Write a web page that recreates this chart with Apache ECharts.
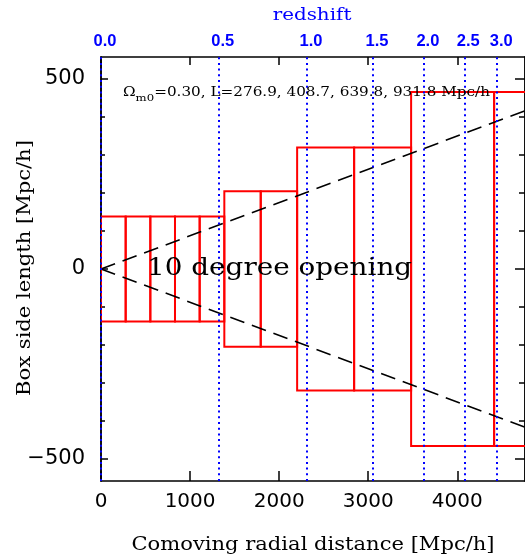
<!DOCTYPE html>
<html><head><meta charset="utf-8">
<script src="https://cdn.jsdelivr.net/npm/echarts@6/dist/echarts.min.js"></script>
<style>html,body{margin:0;padding:0;background:#fff}#c{width:525px;height:558px}</style>
</head><body><div id="c"></div>
<script>
// ---- data ----
const boxSizes = [276.9, 408.7, 639.8, 931.8];   // box side length L [Mpc/h]
const boxCounts = [5, 2, 2, 2];                   // number of boxes stacked for each L
const redshiftLabels = ['0.0', '0.5', '1.0', '1.5', '2.0', '2.5', '3.0'];
const redshiftDist = [0, 1322, 2313, 3054, 3625, 4078, 4448]; // comoving distance of each z
const xTicks = [0, 1000, 2000, 3000, 4000];
const yMajorTicks = [-500, 0, 500];
const yMinorTicks = [-400, -300, -200, -100, 100, 200, 300, 400];
const coneX = [0, 4760];
const coneUpperY = [0, 416.4];
const coneLowerY = [0, -416.4];
const xRange = [0, 4760];
const yRange = [-558, 558];

// ---- build box list from sizes/counts ----
const boxes = [];
let xs = 0;
boxSizes.forEach((L, i) => {
  for (let k = 0; k < boxCounts[i]; k++) { boxes.push([xs, xs + L, L / 2]); xs += L; }
});

const chart = echarts.init(document.getElementById('c'), null, {renderer: 'canvas'});
const AX = {color: '#000', width: 1.5};
const minus = v => String(v).replace('-', '\u2212');

function yAx(pos, ticks, len, labels) {
  return {
    type: 'value', position: pos, min: yRange[0], max: yRange[1],
    axisLine: {show: true, onZero: false, lineStyle: AX},
    axisTick: {show: true, inside: true, length: len, customValues: ticks, lineStyle: AX},
    axisLabel: labels ? {show: true, customValues: ticks, formatter: minus, fontFamily: 'DejaVu Sans', fontSize: 21, color: '#000', margin: 16} : {show: false},
    splitLine: {show: false}
  };
}

// measure text for subscript layout
const ctx = document.createElement('canvas').getContext('2d');
function tw(t, f) { ctx.font = f; return ctx.measureText(t).width; }
const annFont = '13px "DejaVu Serif"';
const subFont = '10px "DejaVu Serif"';
const wOmega = tw('\u03A9', annFont);
const wSub = tw('m0', subFont);

const option = {
  animation: false,
  backgroundColor: '#fff',
  grid: {left: 101, right: -1, top: 57, bottom: 77, containLabel: false},
  xAxis: [
    {
      type: 'value', position: 'bottom', min: xRange[0], max: xRange[1],
      axisLine: {show: true, onZero: false, lineStyle: AX},
      axisTick: {show: true, inside: true, length: 10, customValues: xTicks, lineStyle: AX},
      axisLabel: {customValues: xTicks, formatter: v => String(v), fontFamily: 'DejaVu Sans', fontSize: 20, color: '#000', margin: 11},
      splitLine: {show: false}
    },
    {
      type: 'value', position: 'top', min: xRange[0], max: xRange[1],
      axisLine: {show: true, onZero: false, lineStyle: AX},
      axisTick: {show: true, inside: true, length: 8, customValues: xTicks, lineStyle: AX},
      axisLabel: {
        customValues: redshiftDist,
        formatter: v => {
          let bi = 0, bd = Infinity;
          redshiftDist.forEach((d, i) => { if (Math.abs(d - v) < bd) { bd = Math.abs(d - v); bi = i; } });
          return redshiftLabels[bi];
        },
        fontFamily: 'Liberation Sans', fontWeight: 'bold', fontSize: 16.5, color: '#0000ff', margin: 7,
        padding: [0, 0, 0, 8]
      },
      splitLine: {show: false}
    }
  ],
  yAxis: [
    yAx('left', yMajorTicks, 7, true),
    yAx('left', yMinorTicks, 4, false),
    yAx('right', yMajorTicks, 10, false),
    yAx('right', yMinorTicks, 6, false)
  ],
  series: [
    {
      type: 'custom', name: 'boxes', z: 2, clip: true,
      data: boxes,
      renderItem: (params, api) => {
        const p0 = api.coord([api.value(0), api.value(2)]);
        const p1 = api.coord([api.value(1), -api.value(2)]);
        return {
          type: 'rect',
          shape: {x: p0[0], y: p0[1], width: p1[0] - p0[0], height: p1[1] - p0[1]},
          style: {fill: 'none', stroke: '#ff0000', lineWidth: 2}
        };
      }
    },
    {
      type: 'line', name: 'coneUp', z: 3, showSymbol: false, silent: true,
      data: coneX.map((x, i) => [x, coneUpperY[i]]),
      lineStyle: {color: '#000', width: 1.6, type: [15, 8]}
    },
    {
      type: 'line', name: 'coneLow', z: 4, showSymbol: false, silent: true,
      data: coneX.map((x, i) => [x, coneLowerY[i]]),
      lineStyle: {color: '#000', width: 1.6, type: [15, 8]},
      markLine: {
        silent: true, symbol: 'none', animation: false,
        label: {show: false},
        lineStyle: {color: '#0000ff', width: 2, type: [2, 3.7]},
        data: redshiftDist.map(d => ({xAxis: d}))
      }
    }
  ],
  graphic: [
    {type: 'text', x: 312, y: 16, scaleX: 1.17, z: 100,
     style: {text: 'redshift', font: '17px "DejaVu Serif"', fill: '#0000ff', align: 'center', verticalAlign: 'middle', textAlign: 'center', textVerticalAlign: 'middle'}},
    {type: 'text', x: 313, y: 545, scaleX: 1.17, z: 100,
     style: {text: 'Comoving radial distance [Mpc/h]', font: '18px "DejaVu Serif"', fill: '#000', align: 'center', verticalAlign: 'middle', textAlign: 'center', textVerticalAlign: 'middle'}},
    {type: 'text', x: 25, y: 268, rotation: Math.PI / 2, scaleX: 1.17, z: 100,
     style: {text: 'Box side length [Mpc/h]', font: '18px "DejaVu Serif"', fill: '#000', align: 'center', verticalAlign: 'middle', textAlign: 'center', textVerticalAlign: 'middle'}},
    {type: 'text', x: 147, y: 269, scaleX: 1.16, z: 100,
     style: {text: '10 degree opening', font: '24px "DejaVu Serif"', fill: '#000', align: 'left', verticalAlign: 'middle', textAlign: 'left', textVerticalAlign: 'middle'}},
    {type: 'group', x: 123, y: 93, scaleX: 1.17, z: 100, children: [
      {type: 'text', x: 0, y: 0, z: 100, style: {text: '\u03A9', font: annFont, fill: '#000', align: 'left', verticalAlign: 'middle', textAlign: 'left', textVerticalAlign: 'middle'}},
      {type: 'text', x: wOmega, y: 5.5, z: 100, style: {text: 'm0', font: subFont, fill: '#000', align: 'left', verticalAlign: 'middle', textAlign: 'left', textVerticalAlign: 'middle'}},
      {type: 'text', x: wOmega + wSub, y: 0, z: 100, style: {text: '=0.30, L=' + boxSizes.map(v => v.toFixed(1)).join(', ') + ' Mpc/h', font: annFont, fill: '#000', align: 'left', verticalAlign: 'middle', textAlign: 'left', textVerticalAlign: 'middle'}}
    ]}
  ]
};
chart.setOption(option);
</script>
</body></html>
